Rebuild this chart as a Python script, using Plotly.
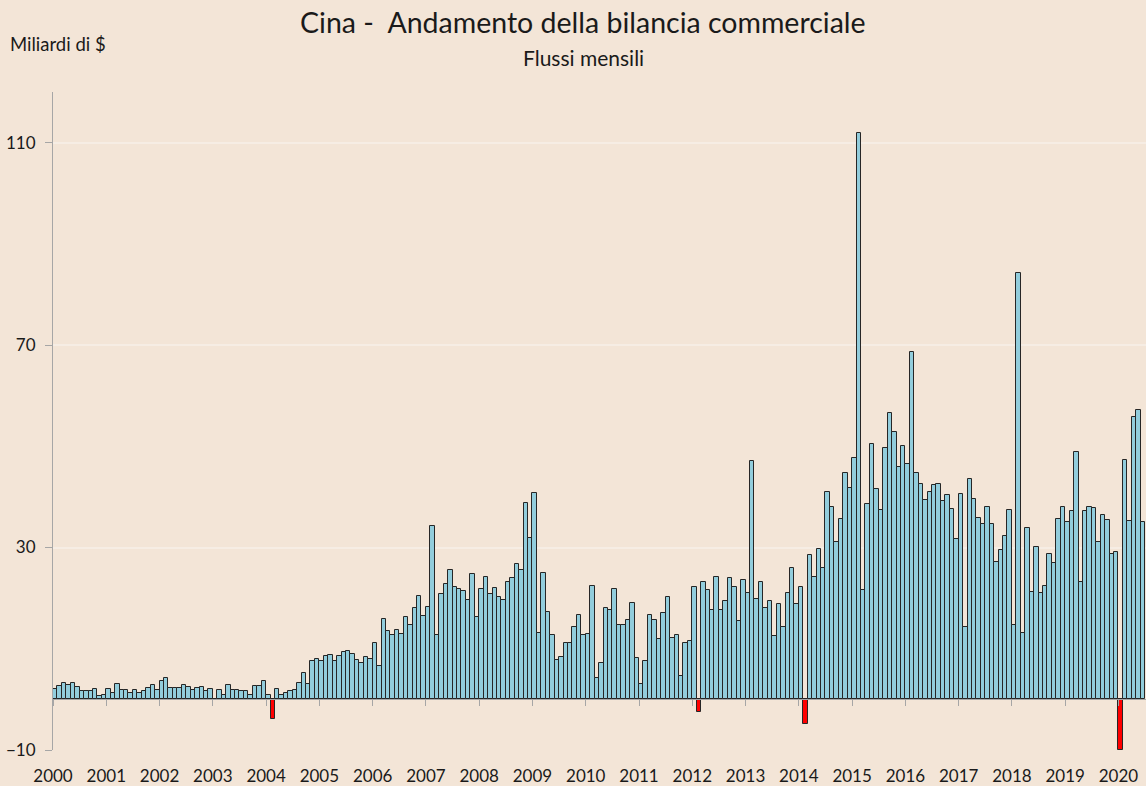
import numpy as np
import plotly.graph_objects as go

# Monthly trade balance, billions of $
bal_2000 = [2.1, 2.7, 3.3, 2.8, 3.3, 2.5, 1.6, 1.7, 1.7, 2.1, 0.7, 0.9]
bal_2001 = [2.1, 1.3, 3.1, 1.9, 1.9, 1.3, 1.9, 1.2, 1.7, 2.3, 2.9, 1.8]
bal_2002 = [3.7, 4.3, 2.2, 2.3, 2.2, 2.9, 2.5, 1.8, 2.3, 2.4, 1.6, 2.1]
bal_2003 = [0.1, 1.9, 0.9, 2.9, 1.9, 1.8, 1.7, 1.6, 0.8, 2.7, 2.7, 3.7]
bal_2004 = [0.9, -3.8, 2.1, 0.8, 1.2, 1.7, 1.9, 3.2, 5.3, 3.1, 7.6, 8.0]
bal_2005 = [7.6, 8.6, 8.8, 7.6, 8.5, 9.4, 9.6, 9.0, 7.8, 7.2, 8.4, 7.9]
bal_2006 = [11.1, 6.6, 15.9, 13.5, 12.8, 13.8, 12.9, 16.2, 14.6, 18.1, 20.4, 16.5]
bal_2007 = [18.2, 34.3, 12.8, 20.9, 22.7, 25.6, 22.3, 21.8, 21.5, 19.6, 24.8, 16.3]
bal_2008 = [21.9, 24.1, 20.8, 22.0, 20.2, 19.6, 23.2, 24.0, 26.8, 25.6, 38.8, 31.8]
bal_2009 = [40.8, 13.2, 25.0, 17.3, 12.7, 7.8, 8.4, 11.2, 11.2, 14.3, 16.7, 12.7]
bal_2010 = [13.0, 22.5, 4.3, 7.2, 18.1, 17.7, 21.8, 14.6, 14.6, 15.6, 19.0, 8.2]
bal_2011 = [3.0, 7.6, 16.7, 15.7, 11.9, 17.1, 20.2, 12.2, 12.8, 4.7, 11.2, 11.6]
bal_2012 = [22.2, -2.4, 23.1, 21.7, 17.7, 24.1, 17.7, 19.5, 24.0, 22.3, 15.5, 23.5]
bal_2013 = [21.1, 47.0, 19.9, 23.1, 18.1, 19.4, 12.6, 18.8, 14.4, 21.1, 26.0, 18.9]
bal_2014 = [22.2, -4.8, 28.5, 24.2, 29.7, 25.9, 41.0, 38.1, 31.0, 35.7, 44.7, 41.7]
bal_2015 = [47.6, 111.9, 21.7, 38.7, 50.5, 41.5, 37.5, 49.7, 56.5, 52.9, 46.0, 50.1]
bal_2016 = [46.5, 68.7, 44.8, 42.6, 39.4, 41.0, 42.4, 42.6, 39.2, 40.4, 37.7, 31.6]
bal_2017 = [40.5, 14.3, 43.5, 39.5, 35.9, 34.6, 38.0, 34.7, 27.2, 29.6, 32.2, 37.5]
bal_2018 = [14.6, 84.3, 13.2, 33.8, 21.3, 30.1, 21.1, 22.5, 28.7, 27.0, 35.7, 38.0]
bal_2019 = [35.1, 37.3, 48.9, 23.2, 37.2, 38.0, 37.9, 31.1, 36.4, 35.4, 28.8, 29.1]
bal_2020 = [-10.0, 47.3, 35.2, 55.7, 57.1, 35.1]

year_labels = [str(y) for y in range(2000, 2021)]
y_ticks = [-10, 30, 70, 110]

values = (bal_2000 + bal_2001 + bal_2002 + bal_2003 + bal_2004 + bal_2005 +
          bal_2006 + bal_2007 + bal_2008 + bal_2009 + bal_2010 + bal_2011 +
          bal_2012 + bal_2013 + bal_2014 + bal_2015 + bal_2016 + bal_2017 +
          bal_2018 + bal_2019 + bal_2020)
months = np.arange(len(values))
colors = ["#FF0000" if v < 0 else "#92CDDC" for v in values]
year_pos = [12 * i - 0.5 for i in range(len(year_labels))]

BG = "#F3E5D7"
GRID = "#F6EDE4"
AX = "#A6A6A6"
FONT = "Lato"

fig = go.Figure()
fig.add_trace(go.Bar(
    x=months, y=values, width=1.0,
    marker=dict(color=colors, line=dict(color="#262626", width=1)),
    showlegend=False, hoverinfo="y",
))

x_range = [-0.5, 245.7]
fig.update_layout(
    width=1146, height=786,
    paper_bgcolor=BG, plot_bgcolor=BG,
    margin=dict(l=53, r=0, t=92, b=36),
    bargap=0,
    font=dict(family=FONT, color="#1A1A1A", size=17),
    xaxis=dict(
        range=x_range, tickmode="array", tickvals=year_pos, ticktext=year_labels,
        showgrid=False, showline=False, zeroline=False, ticks="",
        tickfont=dict(size=17, family=FONT, color="#1A1A1A"),
        ticklabelstandoff=14,
    ),
    xaxis2=dict(
        overlaying="x", anchor="free", position=10 / 130,
        range=x_range, tickmode="array", tickvals=year_pos,
        showticklabels=False, showgrid=False, zeroline=False,
        showline=True, linecolor=AX, linewidth=1,
        ticks="outside", ticklen=6, tickcolor=AX, tickwidth=1,
    ),
    yaxis=dict(
        range=[-10, 120], tickmode="array", tickvals=y_ticks,
        showgrid=True, gridcolor=GRID, gridwidth=2,
        zeroline=False, showline=True, linecolor=AX, linewidth=1,
        ticks="outside", ticklen=7, tickcolor=AX, tickwidth=1,
        tickfont=dict(size=17, family=FONT, color="#1A1A1A"),
        ticklabelstandoff=6,
    ),
)

# invisible trace to attach the zero-line axis (xaxis2)
fig.add_trace(go.Scatter(x=[0], y=[0], xaxis="x2", mode="markers",
                         marker=dict(opacity=0), showlegend=False, hoverinfo="skip"))

fig.add_annotation(text="Cina -  Andamento della bilancia commerciale",
                   xref="paper", yref="paper", x=(583 - 53) / 1093, y=(750 - 22) / 658,
                   xanchor="center", yanchor="middle", showarrow=False,
                   font=dict(size=28.5, family=FONT, color="#1A1A1A"))
fig.add_annotation(text="Flussi mensili",
                   xref="paper", yref="paper", x=(583 - 53) / 1093, y=(750 - 57) / 658,
                   xanchor="center", yanchor="middle", showarrow=False,
                   font=dict(size=21, family=FONT, color="#1A1A1A"))
fig.add_annotation(text="Miliardi di $",
                   xref="paper", yref="paper", x=(8 - 53) / 1093, y=(750 - 44) / 658,
                   xanchor="left", yanchor="middle", showarrow=False,
                   font=dict(size=18.5, family=FONT, color="#1A1A1A"))

fig.write_html("out.html", config={"displayModeBar": False},
               post_script="document.body.style.margin='0';document.body.style.overflow='hidden';")
